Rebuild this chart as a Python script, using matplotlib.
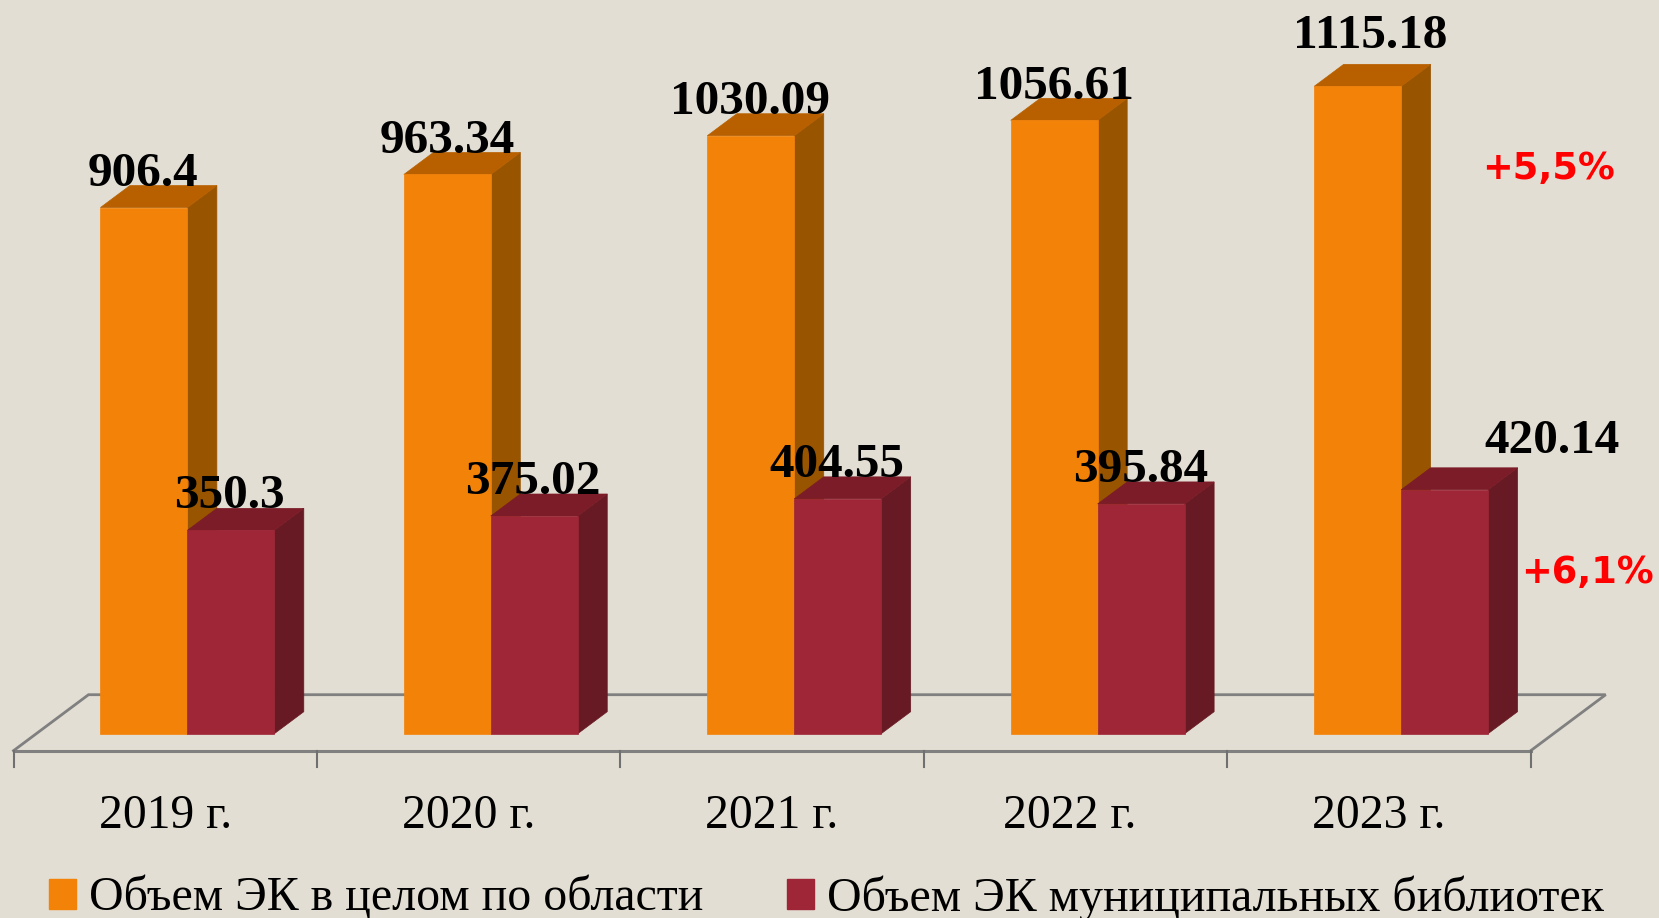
import matplotlib
matplotlib.use("Agg")
import matplotlib.pyplot as plt
from matplotlib.patches import Polygon, Rectangle, Patch

categories = ["2019 г.", "2020 г.", "2021 г.", "2022 г.", "2023 г."]
region_values = [906.4, 963.34, 1030.09, 1056.61, 1115.18]
municipal_values = [350.3, 375.02, 404.55, 395.84, 420.14]
region_labels = ["906.4", "963.34", "1030.09", "1056.61", "1115.18"]
municipal_labels = ["350.3", "375.02", "404.55", "395.84", "420.14"]
series_names = ["Объем ЭК в целом по области", "Объем ЭК муниципальных библиотек"]
growth_labels = ["+5,5%", "+6,1%"]

W, H = 1659, 918
BG = "#E3DED3"
ORANGE, ORANGE_TOP, ORANGE_SIDE = "#F38208", "#B86000", "#995400"
RED, RED_TOP, RED_SIDE = "#9E2636", "#7C1C28", "#671A23"
GRID = "#808080"

PX_X = 303.44          # pixels per category
PX_Y = 0.5805          # pixels per value unit
X0, Y0 = 13.5, 733.7   # pixel of x=0 and value=0

fig = plt.figure(figsize=(W / 100, H / 100), dpi=100, facecolor=BG)
ax = fig.add_axes([0, 0, 1, 1])
ax.set_xlim(-X0 / PX_X, (W - X0) / PX_X)
ax.set_ylim((Y0 - H) / PX_Y, Y0 / PX_Y)
ax.axis("off")

dx = 29.5 / PX_X
dy = 22 / PX_Y
floor_dx = 75 / PX_X
floor_dy = 56 / PX_Y
front_y = -17 / PX_Y
tick_y = -33 / PX_Y
left_off = 0.2865
bar_w = 0.2865

# label placement nudges in pixels (x, y up)
region_nudge = [(0, 0), (0, 0), (0, 0), (0, 0), (13, 17)]
municipal_nudge = [(0, 0), (0, 0), (0, 0), (0, 0), (108, 15)]
category_nudge = [0, 0, 0, -5.5, 0]


def box(x, v, face, top, side, z):
    ax.add_patch(Polygon([(x + bar_w, 0), (x + bar_w + dx, dy), (x + bar_w + dx, v + dy), (x + bar_w, v)],
                         fc=side, ec=side, lw=0.5, zorder=z))
    ax.add_patch(Polygon([(x, v), (x + dx, v + dy), (x + bar_w + dx, v + dy), (x + bar_w, v)],
                         fc=top, ec=top, lw=0.5, zorder=z))
    ax.add_patch(Rectangle((x, 0), bar_w, v, fc=face, ec=face, lw=0.5, zorder=z + 0.1))


# floor
n = len(categories)
ax.plot([0, floor_dx, n + floor_dx, n], [front_y, front_y + floor_dy, front_y + floor_dy, front_y],
        color=GRID, lw=2, zorder=1, solid_joinstyle="miter")
ax.plot([0, n], [front_y, front_y], color=GRID, lw=2.2, zorder=1)
for i in range(n + 1):
    ax.plot([i, i], [front_y, tick_y], color="#707070", lw=1.5, zorder=1)

for i, (a, b) in enumerate(zip(region_values, municipal_values)):
    box(i + left_off, a, ORANGE, ORANGE_TOP, ORANGE_SIDE, 2 + i)
    box(i + left_off + bar_w, b, RED, RED_TOP, RED_SIDE, 2.5 + i)

serif = "Liberation Serif"
for i, (a, b) in enumerate(zip(region_values, municipal_values)):
    nx, ny = region_nudge[i]
    ax.text(i + 0.428 + nx / PX_X, a + (11.5 + ny) / PX_Y, region_labels[i], family=serif, weight="bold", size=35.5,
            ha="center", va="bottom", color="black", zorder=20)
    nx, ny = municipal_nudge[i]
    ax.text(i + 0.713 + nx / PX_X, b + (12 + ny) / PX_Y, municipal_labels[i], family=serif, weight="bold", size=35.5,
            ha="center", va="bottom", color="black", zorder=20)
    ax.text(i + 0.5 + category_nudge[i] / PX_X, -82 / PX_Y, categories[i], family=serif, size=34.3,
            ha="center", va="center", color="black", zorder=20)

ax.text(4.84, (Y0 - 169) / PX_Y, growth_labels[0], family="DejaVu Sans", weight="bold", size=26.5,
        ha="left", va="center", color="#FF0000", zorder=20)
ax.text(4.97, (Y0 - 573) / PX_Y, growth_labels[1], family="DejaVu Sans", weight="bold", size=26.5,
        ha="left", va="center", color="#FF0000", zorder=20)

handles = [Patch(fc=ORANGE, ec=ORANGE), Patch(fc=RED, ec=RED)]
leg = ax.legend(handles, series_names, ncol=2, loc="lower left", bbox_to_anchor=(49 / W, -3 / H),
                bbox_transform=fig.transFigure, frameon=False, borderpad=0, borderaxespad=0,
                handlelength=0.56, handleheight=0.56, handletextpad=0.27, columnspacing=1.75,
                prop={"family": serif, "size": 34.5})

fig.savefig("out.png", dpi=100, facecolor=BG)
